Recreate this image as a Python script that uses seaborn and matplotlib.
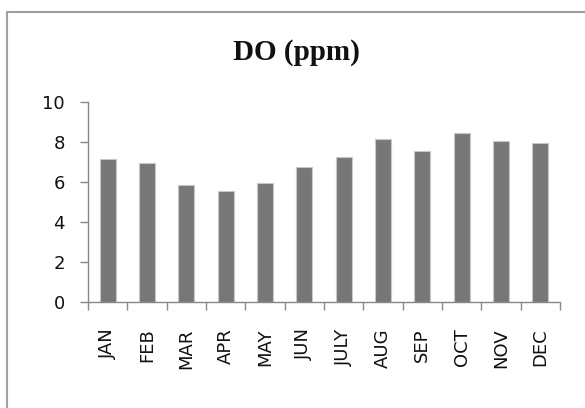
import matplotlib
matplotlib.use("Agg")
import matplotlib.pyplot as plt
import seaborn as sns
import pandas as pd
from matplotlib.patches import Rectangle
from matplotlib.ticker import FixedLocator

months = ["JAN", "FEB", "MAR", "APR", "MAY", "JUN", "JULY", "AUG", "SEP", "OCT", "NOV", "DEC"]
do_ppm = [7.13, 6.93, 5.82, 5.53, 5.92, 6.73, 7.23, 8.13, 7.55, 8.45, 8.03, 7.93]
y_ticks = [0, 2, 4, 6, 8, 10]
title = "DO (ppm)"

df = pd.DataFrame({"month": months, "do": do_ppm})

sns.set_theme(style="white")
plt.rcParams['font.family'] = ['DejaVu Sans']

W, H = 585, 408
fig = plt.figure(figsize=(W / 100, H / 100), dpi=100)
ax = fig.add_axes([88 / W, 1 - 302 / H, (560 - 88) / W, (302 - 101.7) / H])

sns.barplot(data=df, x="month", y="do", ax=ax, color="#777777", width=0.41,
            saturation=1, edgecolor="#c8c8c8", linewidth=0.8)

ax.set_xlim(-0.5, len(months) - 0.5)
ax.set_ylim(0, 10)
ax.set_yticks(y_ticks)
ax.set_xlabel("")
ax.set_ylabel("")

for s in ["top", "right"]:
    ax.spines[s].set_visible(False)
for s in ["left", "bottom"]:
    ax.spines[s].set_color("#888888")
    ax.spines[s].set_linewidth(1.0)

ax.tick_params(axis="y", which="major", length=5.8, width=1.0, color="#888888",
               direction="out", left=True, pad=11, labelsize=13, labelcolor="#111111")
ax.tick_params(axis="x", which="major", length=0, pad=19, labelsize=13,
               labelrotation=90, labelcolor="#111111")
ax.xaxis.set_minor_locator(FixedLocator([i - 0.5 for i in range(len(months) + 1)]))
ax.tick_params(axis="x", which="minor", length=5.8, width=1.0, color="#888888",
               direction="out", bottom=True)
for lbl in ax.get_xticklabels():
    lbl.set_va("top")
    lbl.set_ha("center")

fig.text(296 / W, 1 - 60 / H, title, ha="center", va="baseline",
         fontsize=21, fontweight="bold", family=["Liberation Serif", "DejaVu Serif"],
         color="#111111")

fig.patches.append(Rectangle((7 / W, -0.2), 1.5, 1.2 - 12 / H + 0.0, transform=fig.transFigure,
                             fill=False, edgecolor="#a0a0a0", linewidth=1.5))

fig.savefig("out.png", dpi=100, facecolor="white")
